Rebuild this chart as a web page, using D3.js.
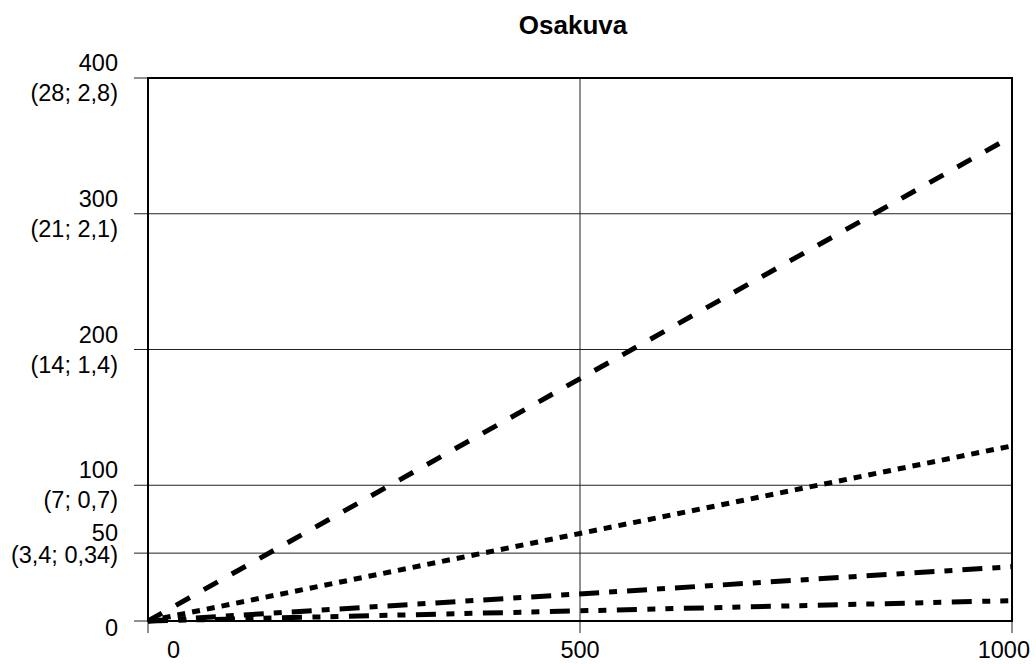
<!DOCTYPE html>
<html>
<head>
<meta charset="utf-8">
<script src="https://cdn.jsdelivr.net/npm/d3@7"></script>
<style>
  body { margin: 0; background: #fff; }
  svg { display: block; font-family: "Liberation Sans", Arial, Helvetica, sans-serif; }
</style>
</head>
<body>
<svg id="chart" width="1036" height="664"></svg>
<script>
const title = "Osakuva";
const xValues = [0, 1000];
const seriesDashed = [0, 357];
const seriesDotted = [0, 129];
const seriesDashDot = [0, 40];
const seriesDashDotDot = [0, 15];
const xTicks = [0, 500, 1000];
const xTickLabels = ["0", "500", "1000"];
const yTicks = [0, 50, 100, 200, 300, 400];
const yTickLabels = [["0"], ["50", "(3,4; 0,34)"], ["100", "(7; 0,7)"], ["200", "(14; 1,4)"], ["300", "(21; 2,1)"], ["400", "(28; 2,8)"]];

const margin = {left: 148, right: 24, top: 78, bottom: 43};
const W = 1036, H = 664;
const svg = d3.select("#chart");

const x = d3.scaleLinear().domain([0, 1000]).range([margin.left, W - margin.right]);
const y = d3.scaleLinear().domain([0, 400]).range([H - margin.bottom, margin.top]);

// gridlines + outward ticks
const g = svg.append("g");
yTicks.filter(v => v > 0 && v < 400).forEach(v => {
  g.append("line").attr("x1", x(0) - 14).attr("x2", x(1000))
    .attr("y1", y(v)).attr("y2", y(v)).attr("stroke", "#222").attr("stroke-width", 1);
});
[0, 400].forEach(v => {
  g.append("line").attr("x1", x(0) - 14).attr("x2", x(0))
    .attr("y1", y(v)).attr("y2", y(v)).attr("stroke", "#222").attr("stroke-width", 1);
});
xTicks.forEach(v => {
  const top = (v > 0 && v < 1000) ? y(400) : y(0);
  g.append("line").attr("x1", x(v)).attr("x2", x(v))
    .attr("y1", top).attr("y2", y(0) + 12).attr("stroke", "#222").attr("stroke-width", 1);
});

// frame
svg.append("rect").attr("x", x(0)).attr("y", y(400))
  .attr("width", x(1000) - x(0)).attr("height", y(0) - y(400))
  .attr("fill", "none").attr("stroke", "#000").attr("stroke-width", 2);

// series
const series = [
  {vals: seriesDashed, dash: "16,16"},
  {vals: seriesDotted, dash: "8,7"},
  {vals: seriesDashDot, dash: "20,10,8,10"},
  {vals: seriesDashDotDot, dash: "20,10.5,8,10,8,10.5"}
];
const line = d3.line().x(d => x(d[0])).y(d => y(d[1]));
series.forEach(s => {
  svg.append("path")
    .attr("d", line(xValues.map((xv, i) => [xv, s.vals[i]])))
    .attr("fill", "none").attr("stroke", "#000").attr("stroke-width", 5)
    .attr("stroke-dasharray", s.dash).attr("stroke-linecap", "butt");
});

// y tick labels
const fs = 23.5;
yTicks.forEach((v, i) => {
  const lines = yTickLabels[i];
  const t = svg.append("text").attr("text-anchor", "end").attr("font-size", fs).attr("fill", "#000");
  if (lines.length === 1) {
    t.append("tspan").attr("x", x(0) - 30).attr("y", y(v) + 15).text(lines[0]);
  } else {
    const next = yTicks[i + 1];
    const tight = next !== undefined && (y(v) - y(next)) < 80;
    const a = tight ? -12 : -7, b = tight ? 10 : 23;
    t.append("tspan").attr("x", x(0) - 30).attr("y", y(v) + a).text(lines[0]);
    t.append("tspan").attr("x", x(0) - 30).attr("y", y(v) + b).text(lines[1]);
  }
});

// x tick labels
xTicks.forEach((v, i) => {
  let anchor = "middle", dx = 0;
  if (i === 0) { anchor = "start"; dx = 19; }
  if (i === xTicks.length - 1) { anchor = "end"; dx = 18; }
  svg.append("text").attr("x", x(v) + dx).attr("y", y(0) + 37)
    .attr("text-anchor", anchor).attr("font-size", fs).attr("fill", "#000")
    .text(xTickLabels[i]);
});

// title
svg.append("text").attr("x", (x(0) + x(1000)) / 2 - 7).attr("y", 34)
  .attr("text-anchor", "middle").attr("font-size", 26).attr("font-weight", "bold")
  .attr("fill", "#000").text(title);
</script>
</body>
</html>
